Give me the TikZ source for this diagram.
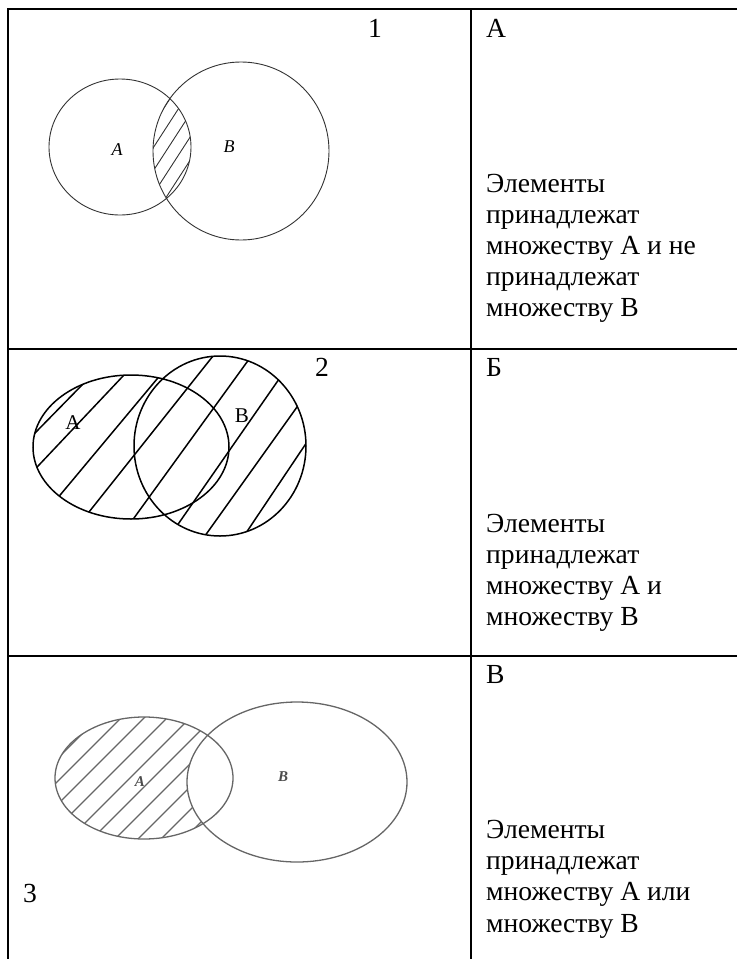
\documentclass[tikz,border=0pt]{standalone}
\usepackage{fontspec}
\setmainfont{Liberation Serif}
\begin{document}
\begin{tikzpicture}[x=1pt, y=-1pt,
    grid/.style={line width=2pt},
    cell/.style={anchor=base west, inner sep=0pt, font=\fontsize{27.6}{31}\selectfont},
    labI/.style={inner sep=0pt, font=\fontsize{18}{18}\selectfont\itshape},
    labII/.style={inner sep=0pt, font=\fontsize{21}{21}\selectfont},
    labIII/.style={inner sep=0pt, black!70, font=\fontsize{15}{15}\selectfont\bfseries\itshape},
    penI/.style={black!80, line width=0.9pt},
    penII/.style={black, line width=1.5pt},
    penIII/.style={black!60, line width=1.3pt},
  ]
  \useasboundingbox (0,0) rectangle (737,959);

  % Table
  \draw[grid] (737,9) -- (7.5,9) -- (7.5,959);
  \draw[grid] (471,9) -- (471,959);
  \draw[grid] (7.5,349) -- (737,349);
  \draw[grid] (7.5,655.5) -- (737,655.5);

  % Row 1: intersection
  \def\rowIa{(120,147) ellipse [x radius=71pt, y radius=68pt]}
  \def\rowIb{(241,151) ellipse [x radius=88pt, y radius=89pt]}
  \begin{scope}
    \clip \rowIa; \clip \rowIb;
    \foreach \x in {70,85,...,190}
      \draw[penI] (\x,230) -- ++(110,-170);
  \end{scope}
  \draw[penI] \rowIa \rowIb;
  \node[labI] (labIa) at (117,150) {A};
  \node[labI] (labIb) at (229,147) {B};
  \node[cell, anchor=base] (numI) at (375,37) {1};

  % Row 2: union
  \def\rowIIa{(131,447) ellipse [x radius=98pt, y radius=72pt]}
  \def\rowIIb{(220,446) ellipse [x radius=86pt, y radius=90pt]}
  \begin{scope}
    \clip \rowIIa \rowIIb;
    \foreach \xa/\ya/\xb/\yb in {35/433/83/384, 39/465/124/375,
        61/494/157/379, 89/512/213/356, 134/518/247/362,
        181/520/277/382, 207/533/297/407, 248/530/305/445}
      \draw[penII, shorten <=-20pt, shorten >=-20pt] (\xa,\ya) -- (\xb,\yb);
  \end{scope}
  \draw[penII] \rowIIa \rowIIb;
  \node[labII] (labIIa) at (73,423) {A};
  \node[labII] (labIIb) at (242,416) {B};
  \node[cell, anchor=base] (numII) at (322,376) {2};

  % Row 3: A without B
  \def\rowIIIa{(144,778) ellipse [x radius=89pt, y radius=61pt]}
  \def\rowIIIb{(297,782) ellipse [x radius=110pt, y radius=80pt]}
  \begin{scope}[even odd rule]
    \clip \rowIIIa;
    \clip (0,660) rectangle (470,959) \rowIIIb;
    \foreach \x in {-80,-57,...,250}
      \draw[penIII] (\x,850) -- ++(150,-150);
  \end{scope}
  \draw[penIII] \rowIIIa \rowIIIb;
  \node[labIII] (labIIIa) at (140,782) {A};
  \node[labIII] (labIIIb) at (283,777) {B};
  \node[cell] (numIII) at (23,902) {3};

  % Right column
  \node[cell] (letI) at (486,37) {А};
  \foreach \t [count=\i from 0] in {Элементы, принадлежат, множеству А и не, принадлежат, множеству В}
    \node[cell] (descI\i) at (486,192+31.2*\i) {\t};

  \node[cell] (letII) at (486,376) {Б};
  \foreach \t [count=\i from 0] in {Элементы, принадлежат, множеству А и, множеству В}
    \node[cell] (descII\i) at (486,532+31.2*\i) {\t};

  \node[cell] (letIII) at (486,683.5) {В};
  \foreach \t [count=\i from 0] in {Элементы, принадлежат, множеству А или, множеству В}
    \node[cell] (descIII\i) at (486,838.5+31.2*\i) {\t};
\end{tikzpicture}
\end{document}
